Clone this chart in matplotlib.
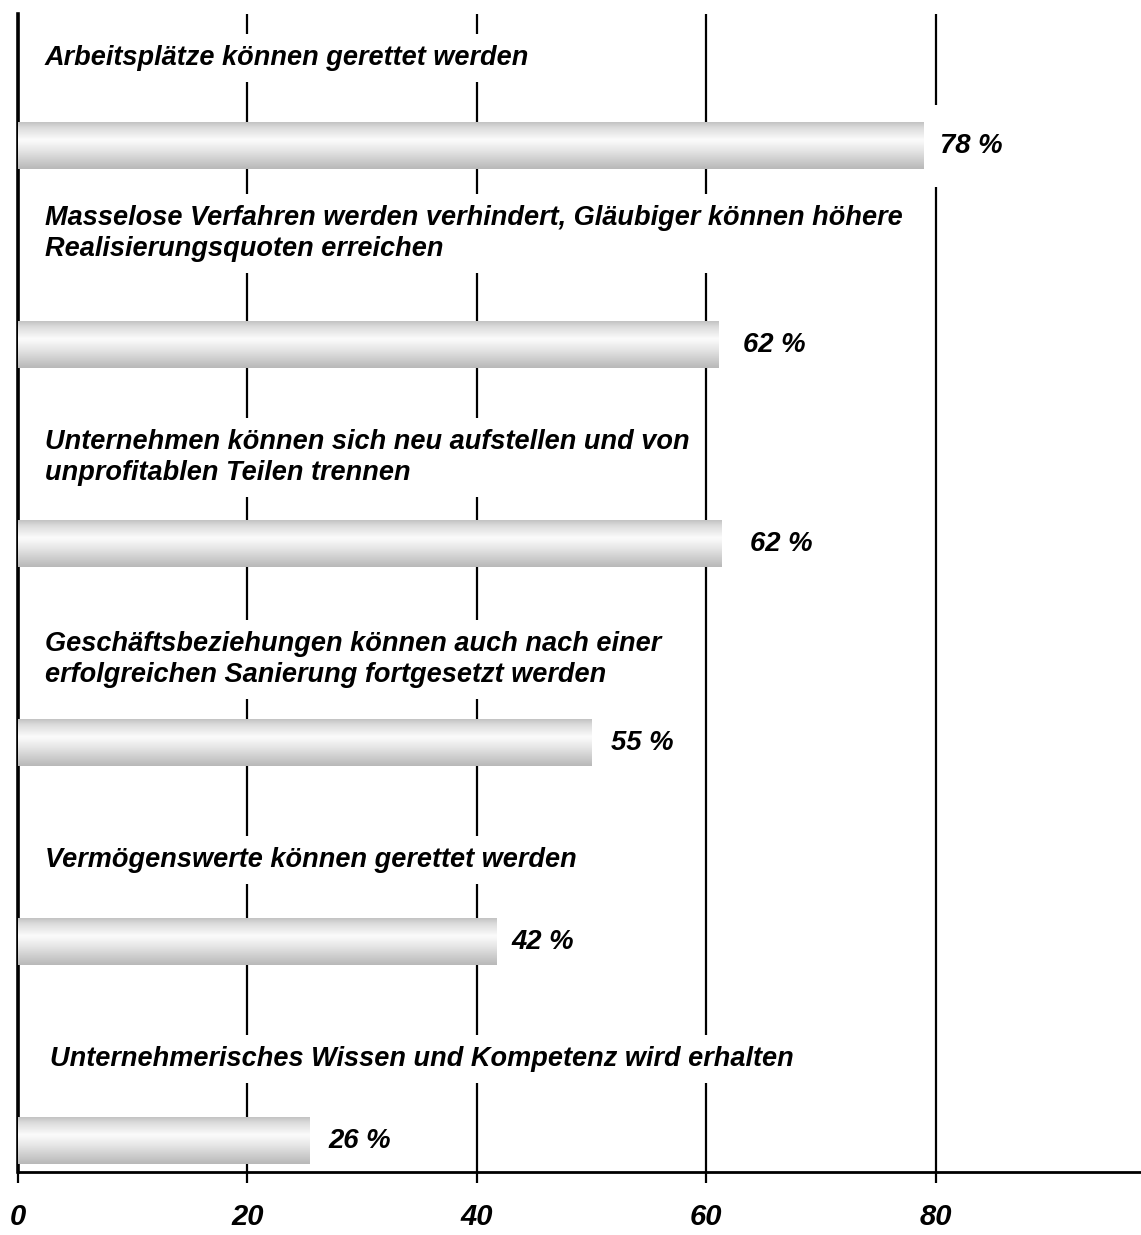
import numpy as np
import matplotlib
matplotlib.use('Agg')
import matplotlib.pyplot as plt

# ====================== Data ======================
categories = [
    'Arbeitsplätze können gerettet werden',
    'Masselose Verfahren werden verhindert, Gläubiger können höhere\nRealisierungsquoten erreichen',
    'Unternehmen können sich neu aufstellen und von\nunprofitablen Teilen trennen',
    'Geschäftsbeziehungen können auch nach einer\nerfolgreichen Sanierung fortgesetzt werden',
    'Vermögenswerte können gerettet werden',
    'Unternehmerisches Wissen und Kompetenz wird erhalten',
]
# bar lengths as drawn in the picture (not exactly the printed numbers)
bar_lengths = [78.95, 61.1, 61.35, 50.0, 41.7, 25.4]
value_labels = ['78 %', '62 %', '62 %', '55 %', '42 %', '26 %']
x_ticks = [0, 20, 40, 60, 80]

# ====================== Layout ======================
label_offsets = [0.44, 0.56, 0.435, 0.42, 0.41, 0.41]   # label centre above bar centre (rows)
label_x = [2.35, 2.35, 2.35, 2.35, 2.35, 2.8]
value_pad = [1.4, 2.1, 2.45, 1.7, 1.35, 1.7]
bar_height = 0.235
font = dict(family='Liberation Sans', weight='bold', style='italic')

plt.rcParams['font.family'] = 'Liberation Sans'

fig = plt.figure(figsize=(11.41, 12.35), dpi=100)
ax = fig.add_axes([0.0158, 0.051, 1 - 0.0158, 0.9887 - 0.051])

# gradient for the "tube" look of the bars
grad = np.interp(np.linspace(0, 1, 200), [0, 0.12, 0.38, 0.6, 1.0],
                 [0.76, 0.86, 0.985, 0.9, 0.72]).reshape(-1, 1)

rows = np.arange(len(categories))
bars = ax.barh(rows, bar_lengths, height=bar_height, color='none', edgecolor='none', zorder=3)
for b in bars:
    x0, y0 = b.get_x(), b.get_y()
    w, h = b.get_width(), b.get_height()
    ax.imshow(grad, cmap='gray', vmin=0, vmax=1, aspect='auto', origin='upper',
              extent=(x0, x0 + w, y0 + h, y0), interpolation='bicubic', zorder=3)

# ====================== Texts ======================
for i, (cat, val) in enumerate(zip(categories, value_labels)):
    ax.text(label_x[i], rows[i] - label_offsets[i], cat, fontsize=19.5, va='center', ha='left',
            linespacing=1.26, zorder=2.5,
            bbox=dict(facecolor='white', edgecolor='none', pad=8), **font)
    ax.text(bar_lengths[i] + value_pad[i], rows[i], val, fontsize=19.8, va='center', ha='left',
            zorder=2.5, bbox=dict(facecolor='white', edgecolor='none', pad=20), **font)

# ====================== Axes ======================
ax.set_xlim(0, 97.9)
ax.set_ylim(5.156, -0.663)
ax.set_xticks(x_ticks)
ax.set_xticklabels([str(t) for t in x_ticks], fontsize=21, **font)
ax.set_yticks([])
ax.grid(axis='x', color='black', linewidth=1.6, zorder=1)
ax.set_axisbelow(True)
for s in ['top', 'right']:
    ax.spines[s].set_visible(False)
ax.spines['left'].set_linewidth(2.6)
ax.spines['bottom'].set_linewidth(2.0)
ax.tick_params(axis='x', length=8, width=1.6, pad=14, direction='out')

fig.savefig('out.png', dpi=100)
